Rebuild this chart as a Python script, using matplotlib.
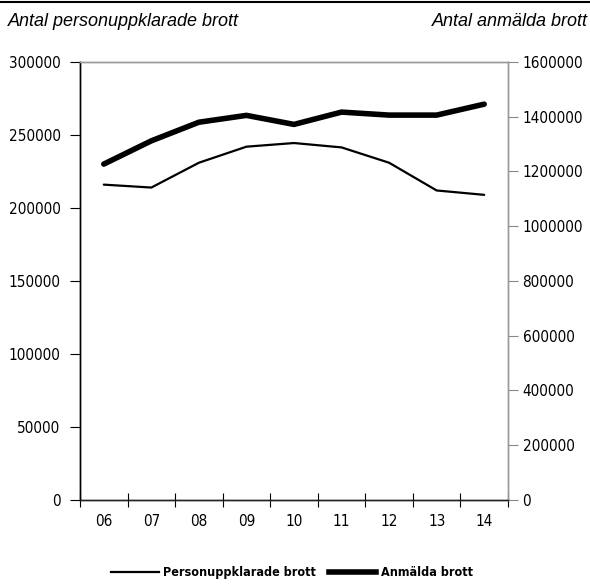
import numpy as np
import matplotlib
matplotlib.use("Agg")
import matplotlib.pyplot as plt
from matplotlib.lines import Line2D

years = ["06", "07", "08", "09", "10", "11", "12", "13", "14"]
personuppklarade = [216000, 214000, 231000, 242000, 244500, 241500, 231000, 212000, 209000]
anmalda = [1227000, 1312000, 1380000, 1405000, 1372000, 1417000, 1406000, 1406000, 1446000]

left_ticks = [0, 50000, 100000, 150000, 200000, 250000, 300000]
right_ticks = [0, 200000, 400000, 600000, 800000, 1000000, 1200000, 1400000, 1600000]

plt.rcParams["font.family"] = ["DejaVu Sans"]
plt.rcParams["font.stretch"] = "condensed"
plt.rcParams["font.size"] = 11

fig = plt.figure(figsize=(5.9, 5.86), dpi=100)
ax = fig.add_axes([0.1356, 0.1468, 0.7254, 0.7474])
ax2 = ax.twinx()

x = np.arange(len(years))
ax.plot(x, personuppklarade, color="black", lw=1.6, solid_capstyle="round")
ax2.plot(x, anmalda, color="black", lw=4.0, solid_capstyle="round", solid_joinstyle="round")

ax.set_xlim(-0.5, len(years) - 0.5)
ax.set_ylim(0, 300000)
ax2.set_ylim(0, 1600000)
ax.set_yticks(left_ticks)
ax.set_yticklabels([str(v) for v in left_ticks])
ax2.set_yticks(right_ticks)
ax2.set_yticklabels([str(v) for v in right_ticks])

ax.set_xticks(x)
ax.set_xticklabels(years)
ax.set_xticks(np.arange(len(years) + 1) - 0.5, minor=True)
ax.tick_params(axis="x", which="major", length=0, pad=10)
ax.tick_params(axis="x", which="minor", direction="inout", length=10, width=0.8)
ax.tick_params(axis="y", direction="out", length=7, width=0.8, pad=7)
ax2.tick_params(axis="y", direction="out", length=7, width=0.8, pad=3.5, color="#888888")

for a in (ax, ax2):
    a.spines["left"].set_color("black")
    a.spines["bottom"].set_color("#222222")
    a.spines["right"].set_color("#999999")
    a.spines["top"].set_color("#999999")
    for s in a.spines.values():
        s.set_linewidth(1.0)

fig.add_artist(Line2D([0, 1], [0.997, 0.997], color="black", lw=1.5, transform=fig.transFigure))
fig.text(0.014, 0.963, "Antal personuppklarade brott", ha="left", va="center",
         fontsize=13, style="italic", family="Liberation Sans", fontstretch="normal")
fig.text(0.997, 0.963, "Antal anmälda brott", ha="right", va="center",
         fontsize=13, style="italic", family="Liberation Sans", fontstretch="normal")

handles = [Line2D([], [], color="black", lw=1.6), Line2D([], [], color="black", lw=4.0)]
fig.legend(handles, ["Personuppklarade brott", "Anmälda brott"], loc="lower center",
           bbox_to_anchor=(0.495, -0.008), ncol=2, frameon=False, handlelength=3.8,
           handletextpad=0.35, columnspacing=1.0, prop={"weight": "bold", "size": 9})

fig.savefig("out.png", dpi=100)
